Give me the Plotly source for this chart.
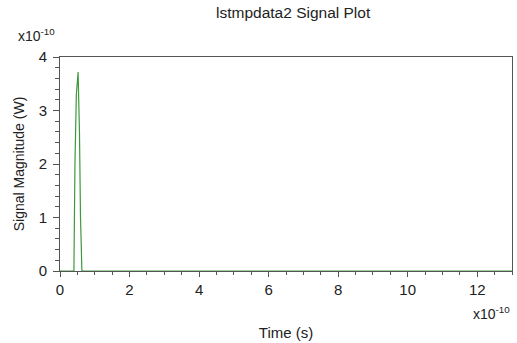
import plotly.graph_objects as go

# Time in units of 1e-10 s, power in units of 1e-10 W
time_e10 = [0.0, 0.40, 0.43, 0.47, 0.52, 0.56, 0.59, 0.63, 13.0]
power_e10 = [0.0, 0.0, 2.0, 3.3, 3.72, 2.6, 1.0, 0.0, 0.0]

x_ticks = [0, 2, 4, 6, 8, 10, 12]
y_ticks = [0, 1, 2, 3, 4]

font = "Liberation Sans, Arial, sans-serif"
axis_col = "#555555"

fig = go.Figure()
fig.add_trace(go.Scatter(x=time_e10, y=power_e10, mode="lines",
                         line=dict(color="#3c9a3c", width=1.2), showlegend=False))

fig.update_layout(
    width=517, height=343,
    margin=dict(l=60, r=5, t=57, b=72),
    paper_bgcolor="white", plot_bgcolor="white",
    font=dict(family=font, size=15, color="#222222"),
    title=dict(text="lstmpdata2 Signal Plot", x=0.567, xanchor="center",
               y=0.962, yanchor="middle", font=dict(size=15.5, color="#222222")),
    xaxis=dict(range=[0, 13], tickvals=x_ticks, showgrid=False, zeroline=False,
               showline=True, linecolor=axis_col, linewidth=1, mirror=True,
               ticks="outside", ticklen=5, tickcolor=axis_col,
               minor=dict(dtick=0.5, ticks="outside", ticklen=3, tickcolor=axis_col),
               title=dict(text="Time (s)", standoff=30, font=dict(size=15))),
    yaxis=dict(range=[0, 4], tickvals=y_ticks, showgrid=False, zeroline=False,
               showline=True, linecolor=axis_col, linewidth=1, mirror=True,
               ticks="outside", ticklen=6, tickcolor=axis_col, ticklabelstandoff=3,
               minor=dict(dtick=0.2, ticks="outside", ticklen=4, tickcolor=axis_col),
               title=dict(text="Signal Magnitude (W)", standoff=10, font=dict(size=14))),
    annotations=[
        dict(text="x10<sup>-10</sup>", xref="paper", yref="paper",
             x=-0.098, y=1.05, xanchor="left", yanchor="bottom",
             showarrow=False, font=dict(size=14)),
        dict(text="x10<sup>-10</sup>", xref="paper", yref="paper",
             x=1.0, y=-0.145, xanchor="right", yanchor="top",
             showarrow=False, font=dict(size=14)),
    ],
)

fig.write_html("out.html")
